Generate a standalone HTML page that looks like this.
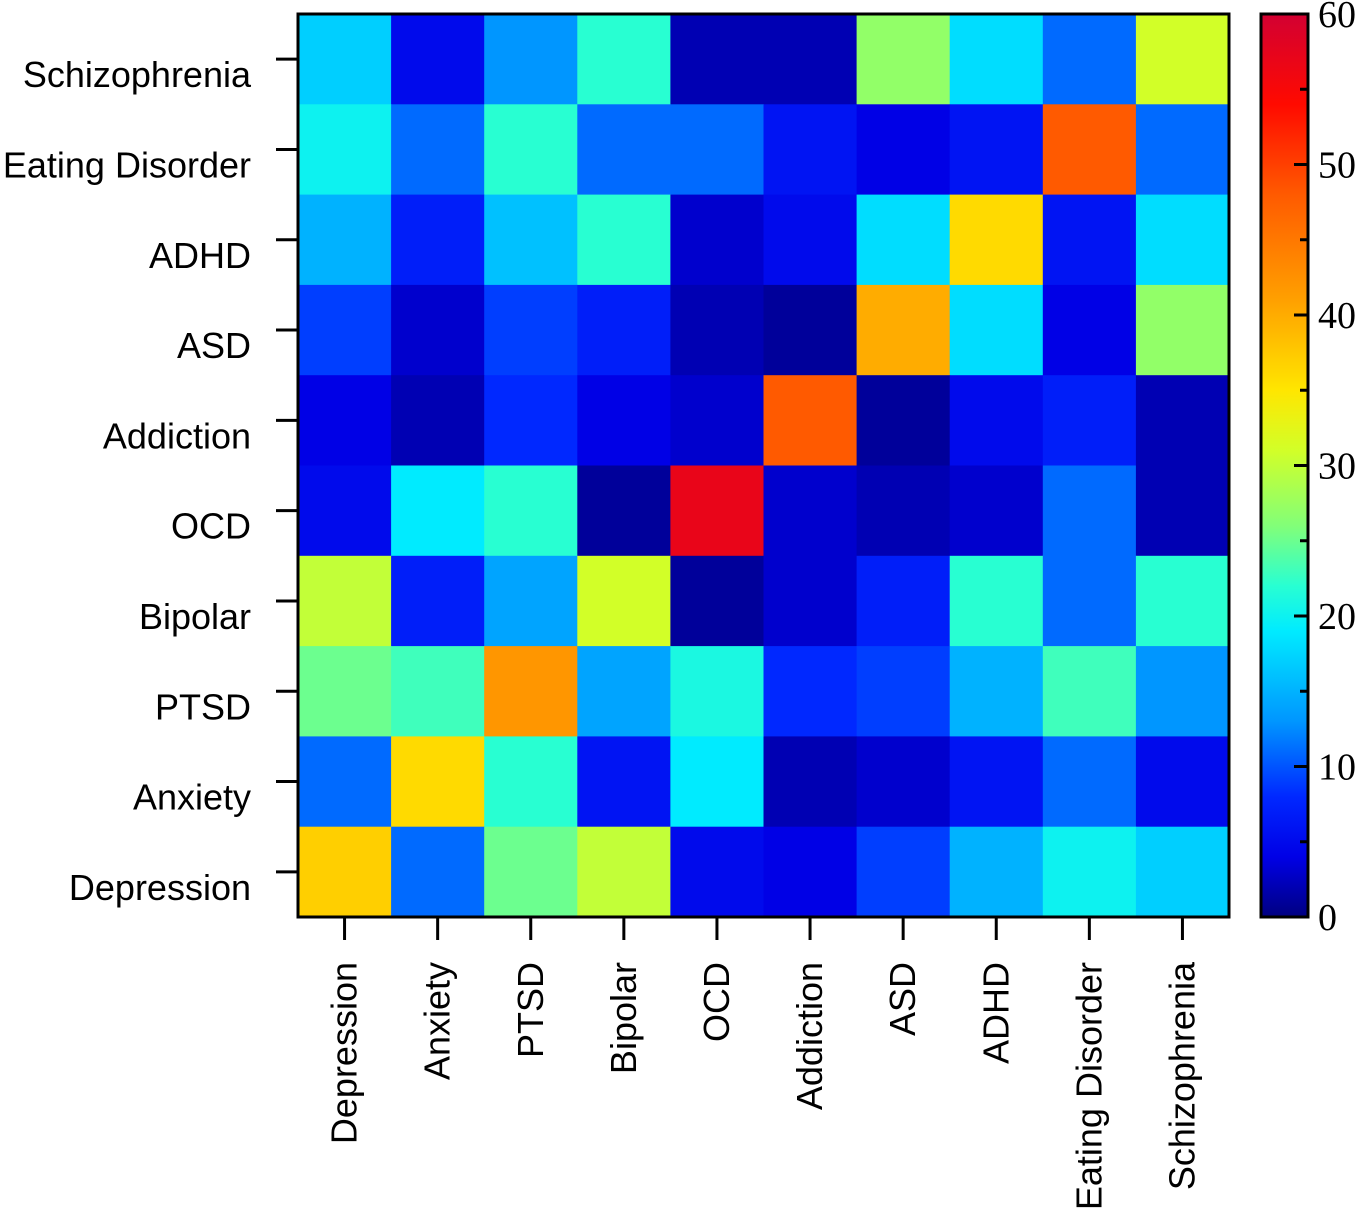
<!DOCTYPE html>
<html><head><meta charset="utf-8"><style>
body{margin:0;background:#fff;}
svg text{font-family:"Liberation Sans",sans-serif;}
</style></head><body>
<svg id="chart" width="1358" height="1216"></svg>
<script>
const categories=["Depression","Anxiety","PTSD","Bipolar","OCD","Addiction","ASD","ADHD","Eating Disorder","Schizophrenia"];
const rowLabels=["Schizophrenia","Eating Disorder","ADHD","ASD","Addiction","OCD","Bipolar","PTSD","Anxiety","Depression"];
const rowSchizophrenia=[17,5,13,22,2,2,27,18,11,31];
const rowEating=[20,11,22,11,11,6,4,6,48,11];
const rowADHD=[15,7,16,22,3,5,18,36,6,18];
const rowASD=[9,3,9,7,2,1,40,18,4,27];
const rowAddiction=[4,2,8,4,3,48,1,5,7,2];
const rowOCD=[5,19,22,1,57,3,2,3,11,2];
const rowBipolar=[30,7,14,31,1,3,7,22,11,22];
const rowPTSD=[25,23,42,14,21,8,9,15,23,13];
const rowAnxiety=[11,36,22,6,19,2,3,6,11,5];
const rowDepression=[37,11,25,30,5,4,9,15,20,17];
const matrix=[rowSchizophrenia,rowEating,rowADHD,rowASD,rowAddiction,rowOCD,rowBipolar,rowPTSD,rowAnxiety,rowDepression];
const cbTicks=[0,10,20,30,40,50,60];
const vmin=0,vmax=60;

const NS="http://www.w3.org/2000/svg";
const svg=document.getElementById('chart');
function mk(t,a,p){const e=document.createElementNS(NS,t);for(const k in a)e.setAttribute(k,a[k]);(p||svg).appendChild(e);return e;}
const stops=[[0,[0,0,128]],[4,[0,0,230]],[8,[0,40,255]],[13,[0,150,255]],[19,[0,235,255]],[22,[40,255,210]],[26,[130,255,120]],[31,[210,255,40]],[35,[255,230,0]],[41,[255,160,0]],[48,[255,90,0]],[54,[255,10,0]],[60,[210,0,50]]];
function cmap(v){v=Math.max(vmin,Math.min(vmax,v));for(let i=0;i<stops.length-1;i++){const a=stops[i],b=stops[i+1];if(v<=b[0]){const t=(v-a[0])/(b[0]-a[0]);const c=a[1].map((x,j)=>Math.round(x+(b[1][j]-x)*t));return `rgb(${c})`;}}return 'rgb(210,0,50)';}
const X0=298,X1=1229,Y0=14,Y1=917;
const cw=(X1-X0)/categories.length, rh=(Y1-Y0)/rowLabels.length;
const xPos=i=>X0+i*cw, yPos=r=>Y0+r*rh;
matrix.forEach((row,r)=>row.forEach((v,c)=>{
  const e=mk('rect',{x:xPos(c),y:yPos(r),width:cw+0.5,height:rh+0.5,fill:cmap(v)});
  
  
}));
mk('rect',{x:X0,y:Y0,width:X1-X0,height:Y1-Y0,fill:'none',stroke:'#000','stroke-width':3,});
rowLabels.forEach((l,r)=>{
  const yc=yPos(r)+rh/2;
  mk('line',{x1:276,x2:298,y1:yc,y2:yc,stroke:'#000','stroke-width':3,});
  const t=mk('text',{x:251,y:yc+28,'text-anchor':'end','font-size':36,});t.textContent=l;
});
categories.forEach((l,c)=>{
  const xc=xPos(c)+cw/2;
  mk('line',{x1:xc,x2:xc,y1:917,y2:940,stroke:'#000','stroke-width':3,});
  const t=mk('text',{x:0,y:0,'text-anchor':'end','font-size':36,transform:`translate(${xc+12},962) rotate(-90)`,});t.textContent=l;
});
const CX0=1261,CX1=1308;
const g=mk('defs',{});
const lg=mk('linearGradient',{id:'cb',x1:0,y1:1,x2:0,y2:0},g);
for(let v=0;v<=60;v+=1)mk('stop',{offset:v/60,'stop-color':cmap(v)},lg);
mk('rect',{x:CX0,y:Y0,width:CX1-CX0,height:Y1-Y0,fill:'url(#cb)',stroke:'#000','stroke-width':3,});
const cy=v=>Y1-(v-vmin)/(vmax-vmin)*(Y1-Y0);
for(let v=0;v<=60;v+=5){
  const y=cy(v);const len=v%10===0?14:8;
  mk('line',{x1:CX1-len,x2:CX1,y1:y,y2:y,stroke:'#000','stroke-width':3,});
}
cbTicks.forEach(v=>{
  const t=mk('text',{x:1318,y:cy(v)+13,'font-size':38,});
  t.setAttribute('style','font-family:"Liberation Serif",serif');t.textContent=v;
});
</script>
</body></html>
